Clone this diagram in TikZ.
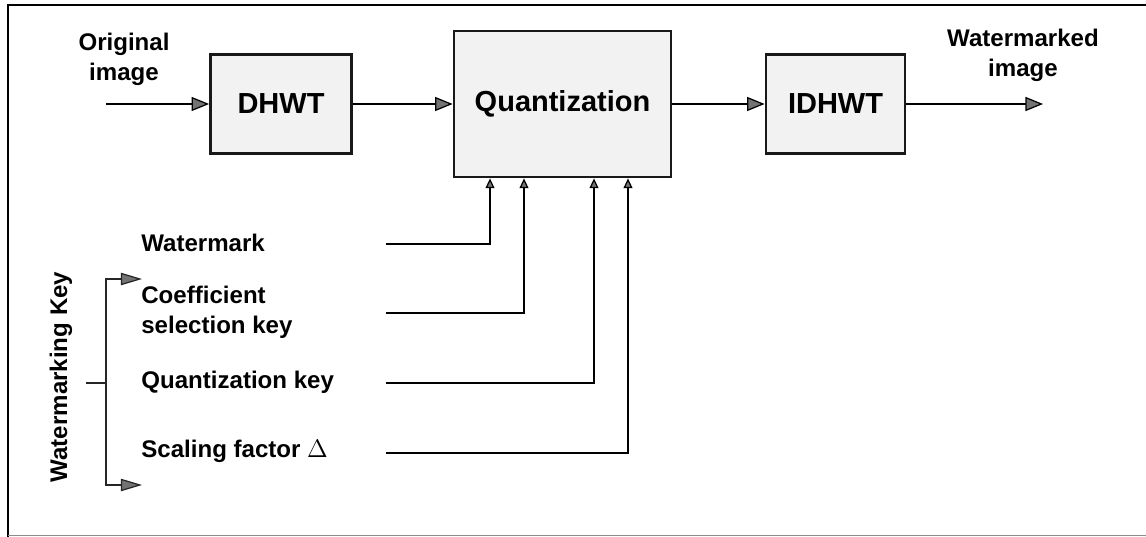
\documentclass[tikz,border=0pt]{standalone}
\usepackage{fontspec}
\setmainfont{Liberation Sans}
\usetikzlibrary{arrows.meta}
\begin{document}
\begin{tikzpicture}[x=0.02cm,y=-0.02cm,
  block/.style={draw=black!90, line width=1.6pt, fill=black!5, inner sep=0pt,
    font=\fontsize{16.5}{20}\selectfont\bfseries},
  lbl/.style={inner sep=0pt, align=left, font=\fontsize{13.7}{17.2}\selectfont\bfseries},
  lblc/.style={lbl, align=center},
  arr/.style={line width=0.7pt, -{Triangle[length=10pt,width=8pt,fill=black!55]}},
  sarr/.style={line width=0.7pt, -{Triangle[length=5.5pt,width=5pt,fill=black!55]}},
  barr/.style={line width=0.7pt, black!85, -{Triangle[length=12pt,width=7pt,fill=black!55]}}]
  \useasboundingbox (0,0) rectangle (1146,537);

  % frame
  \draw[line width=1.3pt] (8,537) -- (8,5) -- (1146,5);
  \draw[line width=0.4pt, black!45] (8,535.5) -- (1146,535.5);

  % processing chain
  \node[block, minimum width=2.82cm, minimum height=1.98cm] (dhwt) at (281,104) {DHWT};
  \node[block, minimum width=4.34cm, minimum height=2.92cm] (quant) at (562.5,104) {Quantization};
  \node[block, minimum width=2.78cm, minimum height=1.98cm] (idhwt) at (835.5,104) {IDHWT};

  \coordinate (src) at (106,104);
  \coordinate (dst) at (1043,104);
  \node[lblc] (orig) at (124,59) {Original\\image};
  \node[lblc] (wmimg) at (1023,55) {Watermarked\\image};

  \draw[arr] (src) -- (dhwt);
  \draw[arr] (dhwt) -- (quant);
  \draw[arr] (quant) -- (idhwt);
  \draw[arr] (idhwt) -- (dst);

  % side inputs of the quantizer
  \node[lbl, anchor=west] (wm) at (141,243) {Watermark};
  \node[lbl, anchor=west] (csk) at (141,312) {Coefficient\\selection key};
  \node[lbl, anchor=west] (qk) at (141,382) {Quantization key};
  \node[lbl, anchor=west] (sf) at (141,451) {Scaling factor $\Delta$};

  \coordinate (s1) at (386,244);
  \coordinate (s2) at (386,313);
  \coordinate (s3) at (386,383);
  \coordinate (s4) at (386,453);
  \coordinate (x1) at (490,0);
  \coordinate (x2) at (524,0);
  \coordinate (x3) at (594,0);
  \coordinate (x4) at (628,0);

  \draw[sarr] (s1) -| (x1 |- quant.south);
  \draw[sarr] (s2) -| (x2 |- quant.south);
  \draw[sarr] (s3) -| (x3 |- quant.south);
  \draw[sarr] (s4) -| (x4 |- quant.south);

  % watermarking key bracket
  \node[lbl, rotate=90] (wkey) at (61,377) {Watermarking Key};
  \coordinate (kin) at (86,383);
  \coordinate (kj) at (106,383);
  \coordinate (ktop) at (142,279);
  \coordinate (kbot) at (142,485);
  \draw[line width=0.7pt, black!85] (kin) -- (kj);
  \draw[barr] (kj) |- (ktop);
  \draw[barr] (kj) |- (kbot);
\end{tikzpicture}
\end{document}
